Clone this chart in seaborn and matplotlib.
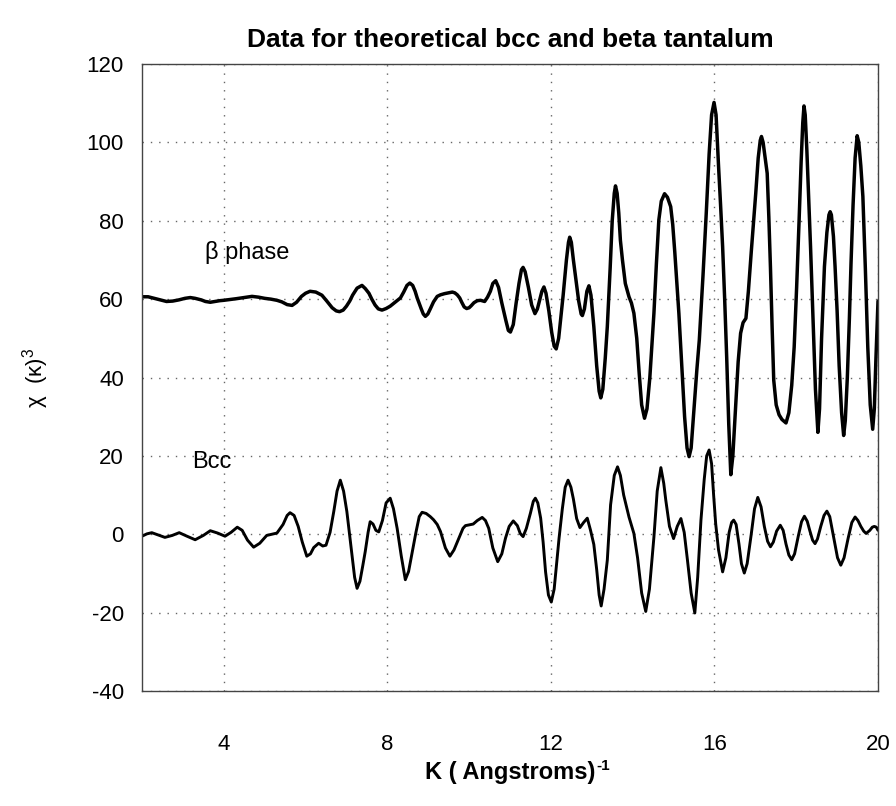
import matplotlib
matplotlib.use("Agg")
import matplotlib.pyplot as plt
import seaborn as sns
import pandas as pd

# ---- data ----
beta_k = [2.00, 2.15, 2.30, 2.45, 2.60, 2.75, 2.90, 3.05, 3.18, 3.30, 3.45, 3.55, 3.67, 3.78, 3.90,
          4.00, 4.15, 4.30, 4.50, 4.69, 4.85, 5.00, 5.15, 5.30, 5.42, 5.55, 5.67, 5.78, 5.90, 6.00,
          6.11, 6.25, 6.40, 6.52, 6.65, 6.75, 6.83, 6.92, 7.00, 7.08, 7.15, 7.26, 7.38, 7.46, 7.55,
          7.62, 7.70, 7.78, 7.87, 7.97, 8.07, 8.20, 8.32, 8.40, 8.48, 8.55, 8.62, 8.68, 8.73, 8.83,
          8.88, 8.93, 8.99, 9.05, 9.13, 9.22, 9.30, 9.40, 9.50, 9.59, 9.65, 9.71, 9.77, 9.82, 9.88,
          9.94, 10.00, 10.05, 10.12, 10.20, 10.28, 10.38, 10.45, 10.52, 10.58, 10.65, 10.72, 10.80,
          10.90, 10.96, 11.01, 11.08, 11.15, 11.22, 11.28, 11.32, 11.37, 11.45, 11.53, 11.61, 11.67,
          11.72, 11.78, 11.83, 11.88, 11.95, 12.02, 12.08, 12.13, 12.19, 12.30, 12.38, 12.43, 12.46,
          12.50, 12.55, 12.60, 12.68, 12.74, 12.77, 12.82, 12.88, 12.93, 12.98, 13.05, 13.12, 13.18,
          13.22, 13.27, 13.33, 13.38, 13.45, 13.50, 13.55, 13.58, 13.62, 13.66, 13.70, 13.75, 13.82,
          13.91, 13.97, 14.03, 14.10, 14.16, 14.22, 14.29, 14.35, 14.42, 14.47, 14.52, 14.58, 14.64,
          14.70, 14.78, 14.85, 14.93, 14.98, 15.03, 15.13, 15.20, 15.27, 15.33, 15.38, 15.43, 15.50,
          15.57, 15.63, 15.72, 15.80, 15.87, 15.93, 15.99, 16.04, 16.10, 16.15, 16.20, 16.25, 16.30,
          16.35, 16.40, 16.45, 16.52, 16.58, 16.64, 16.70, 16.77, 16.83, 16.90, 16.96, 17.01, 17.07,
          17.12, 17.15, 17.19, 17.24, 17.29, 17.33, 17.37, 17.41, 17.45, 17.51, 17.58, 17.65, 17.75,
          17.82, 17.89, 17.95, 18.01, 18.07, 18.12, 18.16, 18.19, 18.22, 18.26, 18.30, 18.35, 18.41,
          18.47, 18.53, 18.57, 18.62, 18.69, 18.75, 18.80, 18.83, 18.86, 18.91, 18.95, 19.00, 19.05,
          19.11, 19.16, 19.20, 19.25, 19.30, 19.34, 19.39, 19.44, 19.49, 19.53, 19.58, 19.63, 19.69,
          19.75, 19.81, 19.87, 19.91, 19.95, 20.00]
beta_chi = [60.6, 60.6, 60.2, 59.8, 59.4, 59.5, 59.8, 60.2, 60.4, 60.2, 59.8, 59.4, 59.2, 59.4, 59.6,
            59.7, 59.9, 60.1, 60.4, 60.7, 60.5, 60.2, 60.0, 59.7, 59.3, 58.6, 58.4, 59.2, 60.7, 61.5,
            62.0, 61.8, 61.0, 59.5, 57.8, 57.0, 56.8, 57.2, 58.2, 59.5, 61.0, 62.8, 63.5, 62.7, 61.5,
            60.0, 58.5, 57.5, 57.2, 57.6, 58.2, 59.3, 60.3, 61.8, 63.5, 64.1, 63.5, 62.0, 60.3, 57.5,
            56.2, 55.6, 56.2, 57.5, 59.3, 60.7, 61.1, 61.4, 61.6, 61.8, 61.6, 61.1, 60.3, 59.2, 58.0,
            57.6, 57.8, 58.3, 59.1, 59.6, 59.7, 59.4, 60.5, 62.0, 64.0, 64.7, 63.0, 59.0,
            54.5, 52.0, 51.6, 53.5, 59.0, 64.0, 67.5, 68.1, 67.0, 63.0, 58.5, 56.3, 57.5,
            59.5, 62.0, 63.1, 61.5, 57.0, 51.5, 48.0, 47.3, 50.0, 61.0, 70.0, 74.5, 75.8,
            74.5, 70.0, 66.0, 59.5, 56.2, 55.8, 57.5, 62.0, 63.4, 61.0, 53.0, 43.0, 36.5,
            34.8, 37.0, 45.0, 53.0, 68.0, 80.0, 87.0, 88.9, 87.0, 82.0, 75.0, 70.0, 64.0,
            60.6, 59.0, 56.4, 50.0, 41.0, 33.0, 29.6, 32.0, 40.0, 48.0, 56.4, 69.0, 80.2,
            85.0, 86.9, 86.0, 83.6, 79.0, 72.0, 56.4, 43.0, 30.0, 22.0, 19.8, 22.0, 32.0,
            42.0, 49.6, 66.0, 82.0, 97.0, 107.0, 110.2, 107.0, 94.0, 84.0, 73.4, 60.0, 45.0,
            28.0, 15.2, 20.0, 33.0, 44.0, 51.3, 54.0, 55.1, 62.0, 72.0, 80.0, 87.0, 96.0,
            100.5, 101.5, 100.0, 96.0, 92.1, 81.0, 68.0, 53.0, 39.3, 33.0, 30.5, 29.3, 28.4,
            31.0, 38.0, 47.8, 63.0, 80.0, 95.0, 105.0, 109.3, 107.0, 98.0, 87.0, 73.4, 55.0,
            37.0, 26.0, 32.0, 50.0, 68.3, 77.0, 81.5, 82.3, 81.5, 76.0, 68.3, 57.0, 43.0,
            31.0, 25.2, 29.0, 40.0, 55.0, 69.1, 84.0, 96.0, 101.7, 100.0, 94.0, 86.2, 68.0,
            47.8, 33.0, 26.8, 32.0, 45.0, 59.5]

bcc_k = [2.00, 2.12, 2.24, 2.40, 2.56, 2.74, 2.91, 3.10, 3.30, 3.50, 3.67, 3.85, 4.03, 4.18, 4.33,
         4.45, 4.58, 4.73, 4.88, 5.05, 5.30, 5.45, 5.55, 5.62, 5.72, 5.82, 5.92, 6.03, 6.12, 6.20,
         6.32, 6.42, 6.50, 6.60, 6.69, 6.77, 6.85, 6.93, 7.01, 7.12, 7.20, 7.26, 7.33, 7.40, 7.46,
         7.53, 7.58, 7.65, 7.72, 7.79, 7.88, 7.97, 8.07, 8.15, 8.24, 8.34, 8.44, 8.52, 8.60, 8.70,
         8.78, 8.85, 8.95, 9.05, 9.13, 9.22, 9.30, 9.42, 9.53, 9.63, 9.75, 9.85, 9.91, 10.00, 10.10,
         10.20, 10.32, 10.40, 10.48, 10.58, 10.70, 10.80, 10.89, 10.98, 11.08, 11.18, 11.25, 11.32,
         11.40, 11.50, 11.57, 11.62, 11.68, 11.75, 11.81, 11.87, 11.94, 12.01, 12.08, 12.14, 12.20,
         12.28, 12.35, 12.42, 12.49, 12.55, 12.63, 12.71, 12.80, 12.89, 12.97, 13.05, 13.12, 13.18,
         13.23, 13.30, 13.38, 13.46, 13.55, 13.63, 13.70, 13.78, 13.91, 14.03, 14.12, 14.22, 14.32,
         14.41, 14.52, 14.60, 14.69, 14.76, 14.81, 14.90, 15.00, 15.09, 15.18, 15.26, 15.34, 15.43,
         15.52, 15.59, 15.67, 15.75, 15.81, 15.87, 15.93, 15.98, 16.03, 16.10, 16.20, 16.28, 16.36,
         16.42, 16.47, 16.53, 16.60, 16.66, 16.73, 16.80, 16.90, 16.98, 17.06, 17.14, 17.22, 17.30,
         17.37, 17.44, 17.52, 17.61, 17.68, 17.75, 17.82, 17.89, 17.96, 18.05, 18.13, 18.20, 18.27,
         18.33, 18.40, 18.46, 18.52, 18.60, 18.68, 18.75, 18.82, 18.92, 19.01, 19.09, 19.17, 19.27,
         19.36, 19.44, 19.51, 19.58, 19.65, 19.71, 19.80, 19.86, 19.91, 19.96, 20.00]
bcc_chi = [-0.5, 0.1, 0.4, -0.2, -0.8, -0.3, 0.4, -0.5, -1.4, -0.3, 0.9, 0.3, -0.5, 0.5, 1.8,
           1.0, -1.5, -3.3, -2.3, -0.3, 0.3, 2.5, 4.8, 5.5, 4.8, 2.0, -2.0, -5.6, -5.0, -3.4,
           -2.3, -3.0, -2.8, 0.5, 5.8, 11.0, 13.8, 11.0, 5.8, -4.0, -11.0, -13.8, -12.0, -8.0, -4.4,
           0.5, 3.2, 2.6, 1.0, 0.6, 3.5, 8.0, 9.2, 6.5, 1.5, -5.5, -11.6, -9.5, -5.0, 0.5,
           4.5, 5.6, 5.3, 4.5, 3.7, 2.5, 0.7, -3.5, -5.6, -4.0, -1.0, 1.5, 2.2, 2.4, 2.6,
           3.5, 4.3, 3.5, 1.5, -3.5, -7.0, -5.0, -1.0, 2.0, 3.4, 2.2, 0.2, -0.6,
           1.5, 5.4, 8.4, 9.2, 8.0, 4.1, -2.0, -9.6, -15.5, -17.3, -14.0, -7.5, -1.0,
           6.5, 12.0, 13.8, 12.0, 9.0, 4.0, 1.7, 3.0, 4.1, 1.0, -2.6, -9.0, -15.5,
           -18.3, -14.0, -6.6, 7.5, 15.0, 17.2, 15.0, 10.0, 4.4, 0.2, -6.0, -15.0, -19.7,
           -14.0, -0.7, 11.0, 17.0, 13.0, 8.7, 2.0, -1.1, 2.0, 4.0, 0.5, -6.6, -15.0,
           -20.1, -11.0, 3.6, 14.0, 20.0, 21.5, 18.0, 10.0, 2.7, -4.0, -9.6, -6.0, 0.5,
           3.0, 3.6, 2.5, -2.5, -7.5, -9.9, -7.5, 0.0, 6.5, 9.4, 7.0, 2.0, -1.8,
           -3.2, -2.0, 0.8, 2.3, 1.0, -2.5, -5.3, -6.5, -5.0, -0.5, 3.2, 4.6, 3.3,
           1.0, -1.5, -2.4, -1.2, 2.0, 4.8, 5.9, 4.5, -1.0, -6.0, -7.9, -6.0, -1.0,
           3.0, 4.4, 3.5, 2.0, 0.8, 0.2, 1.0, 1.8, 2.0, 1.8, 1.0]

x_ticks = [4, 8, 12, 16, 20]
y_ticks = [-40, -20, 0, 20, 40, 60, 80, 100, 120]

# ---- styling ----
sns.set_theme(style="white")
plt.rcParams["font.family"] = ["Liberation Sans", "DejaVu Sans"]
plt.rcParams["mathtext.fontset"] = "custom"
plt.rcParams["mathtext.rm"] = "Liberation Sans"
plt.rcParams["mathtext.it"] = "Liberation Sans:italic"
plt.rcParams["mathtext.bf"] = "Liberation Sans:bold"
plt.rcParams["axes.unicode_minus"] = False
for key in ["text.color", "axes.labelcolor", "xtick.color", "ytick.color"]:
    plt.rcParams[key] = "black"

fig = plt.figure(figsize=(8.96, 8.06), dpi=100)
ax = fig.add_axes([142 / 896, 1 - 691 / 806, (878 - 142) / 896, (691 - 64) / 806])

df_beta = pd.DataFrame({"K": beta_k, "chi": beta_chi})
df_bcc = pd.DataFrame({"K": bcc_k, "chi": bcc_chi})
sns.lineplot(data=df_beta, x="K", y="chi", ax=ax, color="black", linewidth=2.5,
             sort=False, estimator=None)
sns.lineplot(data=df_bcc, x="K", y="chi", ax=ax, color="black", linewidth=2.1,
             sort=False, estimator=None)

ax.set_xlim(2, 20)
ax.set_ylim(-40, 120)
ax.set_xticks(x_ticks)
ax.set_yticks(y_ticks)
ax.set_xticklabels([str(t) for t in x_ticks])
ax.set_yticklabels([str(t) for t in y_ticks])
ax.tick_params(axis="x", length=0, pad=31, labelsize=16)
ax.tick_params(axis="y", length=0, pad=13, labelsize=16)

ax.grid(True, color="#666666", linestyle=(0, (1, 5)), linewidth=1.0)
for sp in ax.spines.values():
    sp.set_color("#444444")
    sp.set_linewidth(1.0)

ax.set_title("Data for theoretical bcc and beta tantalum", fontsize=19,
             fontweight="bold", pad=12)
xl = ax.set_xlabel("K ( Angstroms)", fontsize=17, fontweight="bold", labelpad=4)
ax.set_ylabel(r"χ  (κ)$^{3}$", fontsize=16, labelpad=26)

ax.text(3.55, 72, "β phase", fontsize=17, ha="left", va="center")
ax.text(3.22, 18.5, "Bcc", fontsize=17, ha="left", va="center")

# small superscript "-1" right after the x label
fig.canvas.draw()
bb = xl.get_window_extent(renderer=fig.canvas.get_renderer())
fig.text((bb.x1 + 1) / fig.bbox.width, (bb.y1 + 2) / fig.bbox.height, "-1",
         fontsize=11, fontweight="bold", ha="left", va="top")

fig.savefig("out.png", dpi=100, facecolor="white")
